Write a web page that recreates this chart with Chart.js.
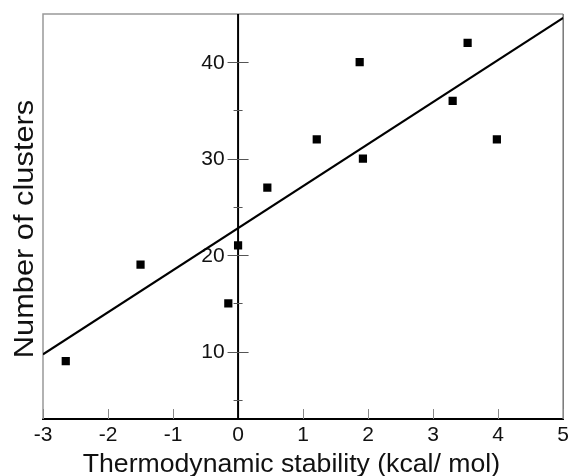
<!DOCTYPE html>
<html><head><meta charset="utf-8">
<script src="https://cdn.jsdelivr.net/npm/chart.js@4"></script>
<style>html,body{margin:0;padding:0;background:#fff;}#wrap{width:569px;height:476px;}</style>
</head><body><div id="wrap"><canvas id="c" width="569" height="476"></canvas></div>
<script>
const stabilityX = [-2.65, -1.5, -0.15, 0, 0.45, 1.21, 1.87, 1.92, 3.30, 3.53, 3.98];
const clusterY   = [9, 19, 15, 21, 27, 32, 40, 30, 36, 42, 32];
const fitX = [-3, 5];
const fitY = [9.7, 44.6];
const xTickValues = [-3, -2, -1, 0, 1, 2, 3, 4, 5];
const yMajorTicks = [10, 20, 30, 40];
const yMinorTicks = [5, 15, 25, 35];
const xTitle = 'Thermodynamic stability (kcal/ mol)';
const yTitle = 'Number of clusters';

const FONT = '"Liberation Sans", Arial, Helvetica, sans-serif';

const points = stabilityX.map((x, i) => ({x, y: clusterY[i]}));
const fit = fitX.map((x, i) => ({x, y: fitY[i]}));

const deco = {
  id: 'deco',
  beforeDatasetsDraw(chart) {
    const ctx = chart.ctx, ca = chart.chartArea;
    const xs = chart.scales.x, ys = chart.scales.y;
    ctx.save();
    // frame
    ctx.lineWidth = 1.5;
    ctx.strokeStyle = '#999';
    ctx.beginPath();
    ctx.moveTo(ca.left, ca.bottom); ctx.lineTo(ca.left, ca.top); ctx.lineTo(ca.right, ca.top);
    ctx.stroke();
    ctx.strokeStyle = '#777';
    ctx.beginPath();
    ctx.moveTo(ca.right, ca.top); ctx.lineTo(ca.right, ca.bottom);
    ctx.stroke();
    // x inner ticks
    ctx.lineWidth = 1;
    ctx.strokeStyle = '#888';
    xTickValues.forEach(v => {
      const px = Math.round(xs.getPixelForValue(v)) + 0.5;
      ctx.beginPath(); ctx.moveTo(px, ca.bottom); ctx.lineTo(px, ca.bottom - 10); ctx.stroke();
    });
    // y axis at x=0
    const x0 = xs.getPixelForValue(0);
    ctx.strokeStyle = '#000';
    ctx.lineWidth = 2;
    ctx.beginPath(); ctx.moveTo(x0, ca.top); ctx.lineTo(x0, ca.bottom); ctx.stroke();
    ctx.lineWidth = 1;
    ctx.strokeStyle = '#555';
    yMajorTicks.forEach(v => {
      const py = Math.round(ys.getPixelForValue(v)) + 0.5;
      ctx.beginPath(); ctx.moveTo(x0 - 10.5, py); ctx.lineTo(x0 + 10.5, py); ctx.stroke();
    });
    yMinorTicks.forEach(v => {
      const py = Math.round(ys.getPixelForValue(v)) + 0.5;
      ctx.beginPath(); ctx.moveTo(x0 - 4.5, py); ctx.lineTo(x0 + 4.5, py); ctx.stroke();
    });
    ctx.fillStyle = '#111';
    ctx.font = '21px ' + FONT;
    ctx.textAlign = 'right';
    ctx.textBaseline = 'middle';
    yMajorTicks.forEach(v => {
      ctx.fillText(String(v), x0 - 13.5, ys.getPixelForValue(v) + 1);
    });
    ctx.restore();
  },
  afterDraw(chart) {
    const ctx = chart.ctx;
    ctx.save();
    ctx.fillStyle = '#111';
    ctx.textAlign = 'center';
    ctx.textBaseline = 'alphabetic';
    ctx.font = '25px ' + FONT;
    ctx.save();
    ctx.translate(291.4, 471.5);
    ctx.scale(1.065, 1);
    ctx.fillText(xTitle, 0, 0);
    ctx.restore();
    ctx.save();
    ctx.font = '28px ' + FONT;
    ctx.translate(33, 229);
    ctx.rotate(-Math.PI / 2);
    ctx.scale(1.1, 1);
    ctx.fillText(yTitle, 0, 0);
    ctx.restore();
    ctx.restore();
  }
};

new Chart(document.getElementById('c'), {
  type: 'scatter',
  data: {
    datasets: [
      {type: 'scatter', data: points, pointStyle: 'rect', pointRadius: 5.8, pointHoverRadius: 5.8,
       backgroundColor: '#000', borderWidth: 0},
      {type: 'line', data: fit, borderColor: '#000', borderWidth: 2.2, pointRadius: 0, fill: false,
       showLine: true, tension: 0}
    ]
  },
  options: {
    responsive: false,
    devicePixelRatio: 1,
    animation: false,
    layout: {padding: {left: 43, right: 5, top: 14, bottom: 0}},
    plugins: {legend: {display: false}, tooltip: {enabled: false}},
    scales: {
      x: {
        type: 'linear', min: -3, max: 5,
        ticks: {stepSize: 1, autoSkip: false, maxRotation: 0, padding: 4, color: '#111',
                font: {size: 21, family: FONT}},
        grid: {display: false, drawTicks: false},
        border: {display: true, color: '#000', width: 2},
        afterFit(s) { s.height = 57; s.paddingLeft = 0; s.paddingRight = 0; }
      },
      y: {type: 'linear', min: 3, max: 45, display: false}
    }
  },
  plugins: [deco]
});
</script></body></html>
